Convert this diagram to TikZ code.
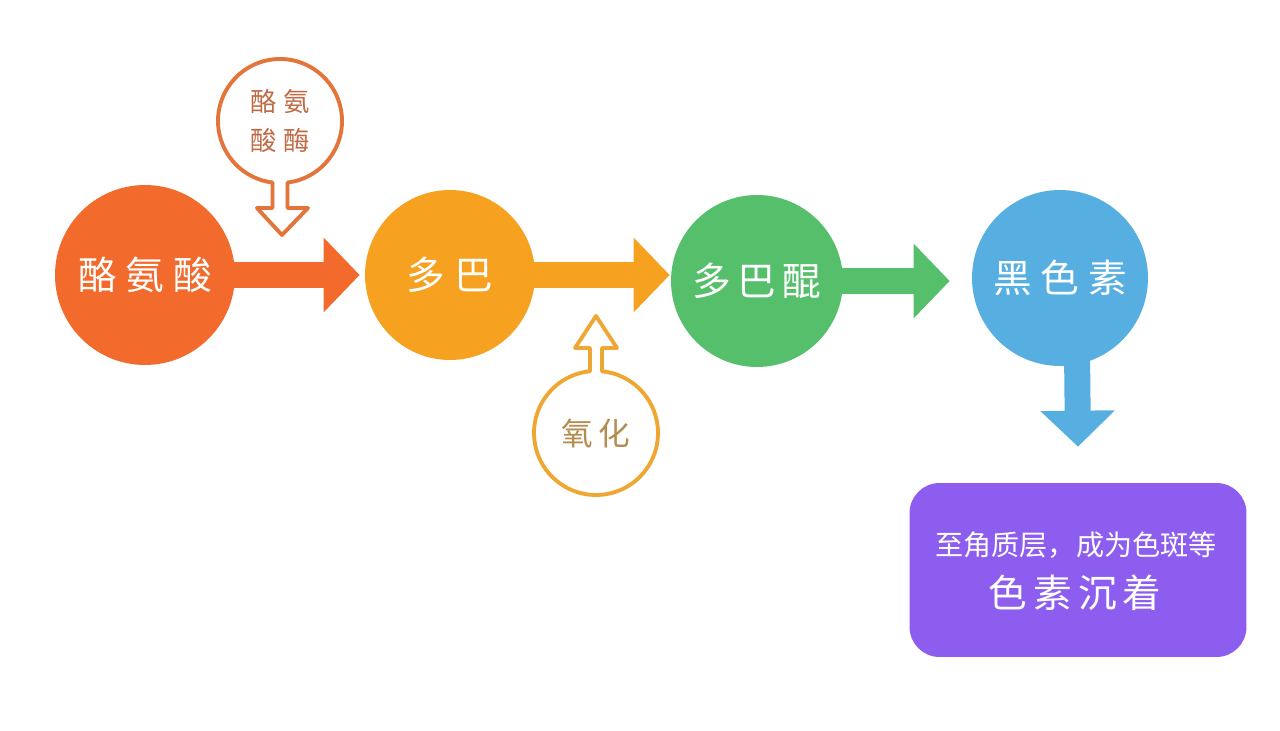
\documentclass[tikz,border=0pt]{standalone}
\usepackage{fontspec}
\setmainfont{Noto Sans CJK SC}
\usetikzlibrary{arrows.meta,calc}
\definecolor{cOrange}{HTML}{F26B2C}
\definecolor{cYellow}{HTML}{F6A11F}
\definecolor{cGreen}{HTML}{55BF6B}
\definecolor{cBlue}{HTML}{57AEE1}
\definecolor{cPurple}{HTML}{8D5DEF}
\definecolor{cKone}{HTML}{E4753A}
\definecolor{cKoneText}{HTML}{BF6B45}
\definecolor{cKtwo}{HTML}{EFA733}
\definecolor{cKtwoText}{HTML}{B48D50}
\newcommand{\gapA}{\hspace{5pt}}
\newcommand{\gapB}{\hspace{3.5pt}}
\begin{document}
\begin{tikzpicture}[x=0.02cm,y=0.02cm,
  bubble/.style={circle, inner sep=0pt, text=white, font=\fontsize{22pt}{26pt}\selectfont},
  flow/.style={line width=0.52cm, draw=#1, -{Triangle[length=0.72cm,width=1.45cm]}},
  callout/.style={line width=2.2pt, draw=#1, fill=white, line join=round},
]
\useasboundingbox (0,0) rectangle (1280,730);
\fill[white] (0,0) rectangle (1280,730);

% main bubbles
\node[bubble, fill=cOrange, minimum size=3.6cm]  (c1) at (145,455) {酪\gapA 氨\gapA 酸};
\node[bubble, fill=cYellow, minimum size=3.4cm]  (c2) at (450,455) {多\gapA 巴};
\node[bubble, fill=cGreen,  minimum size=3.44cm] (c3) at (757,449) {多\gapB 巴\gapB 醌};
\node[bubble, fill=cBlue,   minimum size=3.52cm] (c4) at (1060,452) {黑\gapA 色\gapA 素};

% result box
\node[fill=cPurple, rounded corners=0.6cm, minimum width=6.74cm, minimum height=3.48cm] (box) at (1078,160) {};
\node[text=white, font=\fontsize{16pt}{19pt}\selectfont] (t1) at (1076,185) {至角质层，成为色斑等};
\node[text=white, font=\fontsize{22pt}{26pt}\selectfont] (t2) at (1075,137) {色\gapB 素\gapB 沉\gapB 着};

% flow arrows
\draw[flow=cOrange] ([xshift=-0.3cm]c1.east) -- ([xshift=-0.1cm]c2.west);
\draw[flow=cYellow] ([xshift=-0.3cm]c2.east) -- ([xshift=-0.02cm]c2.east -| c3.west);
\draw[flow=cGreen]  ([xshift=-0.3cm]c3.east) -- ([xshift=-0.44cm]c3.east -| c4.west);
\draw[flow=cBlue]   ([xshift=0.34cm,yshift=0.3cm]c4.south) -- ([yshift=0.72cm]box.north);

% callout 1 : enzyme
\draw[callout=cKone] (280,609) ++(-83:62) arc[start angle=-83, end angle=263, radius=62]
  -- ++(0,-25.5) -- ++(-15.5,0) -- (282,495) -- (308,522) -- (287.56,522) -- cycle;
\node[text=cKoneText, align=center, font=\fontsize{15pt}{22.7pt}\selectfont] (k1) at (280,609) {酪\gapB 氨\\酸\gapB 酶};

% callout 2 : oxidation
\draw[callout=cKtwo] (596,297) ++(95.55:62) arc[start angle=95.55, end angle=444.45, radius=62]
  -- ++(0,23.3) -- ++(15,0) -- (596,414) -- (575,382) -- (590,382) -- cycle;
\node[text=cKtwoText, font=\fontsize{18pt}{22pt}\selectfont] (k2) at (596,297) {氧\hspace{3pt}化};
\end{tikzpicture}
\end{document}
